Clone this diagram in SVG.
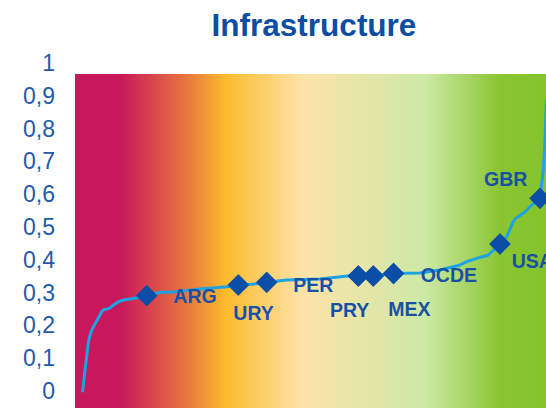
<svg xmlns="http://www.w3.org/2000/svg" width="546" height="408" viewBox="0 0 546 408">
<defs>
<linearGradient id="bg" x1="75" y1="0" x2="546" y2="0" gradientUnits="userSpaceOnUse">
<stop offset="0" stop-color="#C8175A"/>
<stop offset="0.095" stop-color="#C8175A"/>
<stop offset="0.25" stop-color="#EB803C"/>
<stop offset="0.318" stop-color="#FCBA2C"/>
<stop offset="0.484" stop-color="#FDE3A9"/>
<stop offset="0.745" stop-color="#CCE9A5"/>
<stop offset="0.904" stop-color="#89C530"/>
<stop offset="1" stop-color="#84C42B"/>
</linearGradient>
<path id="dm" d="M0,-10 L10,0 L0,10 L-10,0Z"/>
</defs>
<style>
.ax{font-family:"Liberation Sans",Arial,sans-serif;font-size:23px;fill:#1F5AAB;text-anchor:end}
.lb{font-family:"Liberation Sans",Arial,sans-serif;font-size:19.5px;font-weight:bold;fill:#1750A5}
.dm{fill:#0B4EA8;stroke:#0B4EA8;stroke-width:1.2;stroke-linejoin:round}
.crv{fill:none;stroke:#1BA3E3;stroke-width:3;stroke-linejoin:round;stroke-linecap:round}
</style>
<rect x="0" y="0" width="546" height="408" fill="#FFFFFF"/>
<text x="314" y="35.5" font-family="Liberation Sans,Arial,sans-serif" font-size="31.5" font-weight="bold" fill="#0D4EA3" text-anchor="middle">Infrastructure</text>
<g id="yaxis">
<text class="ax" x="55" y="71">1</text>
<text class="ax" x="55" y="103.8">0,9</text>
<text class="ax" x="55" y="136.6">0,8</text>
<text class="ax" x="55" y="169.4">0,7</text>
<text class="ax" x="55" y="202.2">0,6</text>
<text class="ax" x="55" y="235">0,5</text>
<text class="ax" x="55" y="267.8">0,4</text>
<text class="ax" x="55" y="300.6">0,3</text>
<text class="ax" x="55" y="333.4">0,2</text>
<text class="ax" x="55" y="366.2">0,1</text>
<text class="ax" x="55" y="399">0</text>
</g>
<rect id="plot" x="75" y="74" width="471" height="334" fill="url(#bg)"/>
<g id="connectors">
<path class="crv" d="M82.7,391 L85,370 L88.3,343 Q90,333 93.3,327 L100,315 Q102,310 105,309.3 Q108,309 110,307.7 L115,304 Q119,301 123.3,300 L135,298.3 L146.7,295.7 L160,292.3 L173,292 L200,289 L226.7,286.7 L238.3,285 L252,284.3 L266.7,282.3 L286.7,280 L320,279 L350,275.7 L358.3,276 L373.3,276 L393.3,273.5 L405,273.3 L420,273 L440,270 L460,265 L466.7,261.7 L480,257.3 Q486,256 488.3,255 L500,244 L506.7,236.7 L513.3,221.7 Q515,218 518.3,216.7 L525,211.7 L531.7,205 L540,198.3 L541.7,183 L543.3,170 L545,140 L546.5,100"/>
</g>
<g id="ARG"><use href="#dm" class="dm" x="146.7" y="295.7"/><text class="lb" x="173.3" y="303.3">ARG</text></g>
<g id="URY"><use href="#dm" class="dm" x="238.3" y="285"/><use href="#dm" class="dm" x="266.7" y="282.3"/><text class="lb" x="233.3" y="320">URY</text></g>
<g id="PER"><text class="lb" x="293.3" y="292.3">PER</text></g>
<g id="PRY"><use href="#dm" class="dm" x="358.3" y="276"/><use href="#dm" class="dm" x="373.3" y="276"/><text class="lb" x="330" y="316.7">PRY</text></g>
<g id="MEX"><use href="#dm" class="dm" x="393.5" y="273.5"/><text class="lb" x="388.3" y="315.7">MEX</text></g>
<g id="OCDE"><text class="lb" x="420.7" y="281.7">OCDE</text></g>
<g id="USA"><use href="#dm" class="dm" x="500" y="244"/><text class="lb" x="511.7" y="268.3">USA</text></g>
<g id="GBR"><use href="#dm" class="dm" x="540" y="198.3"/><text class="lb" x="484" y="186">GBR</text></g>
</svg>
